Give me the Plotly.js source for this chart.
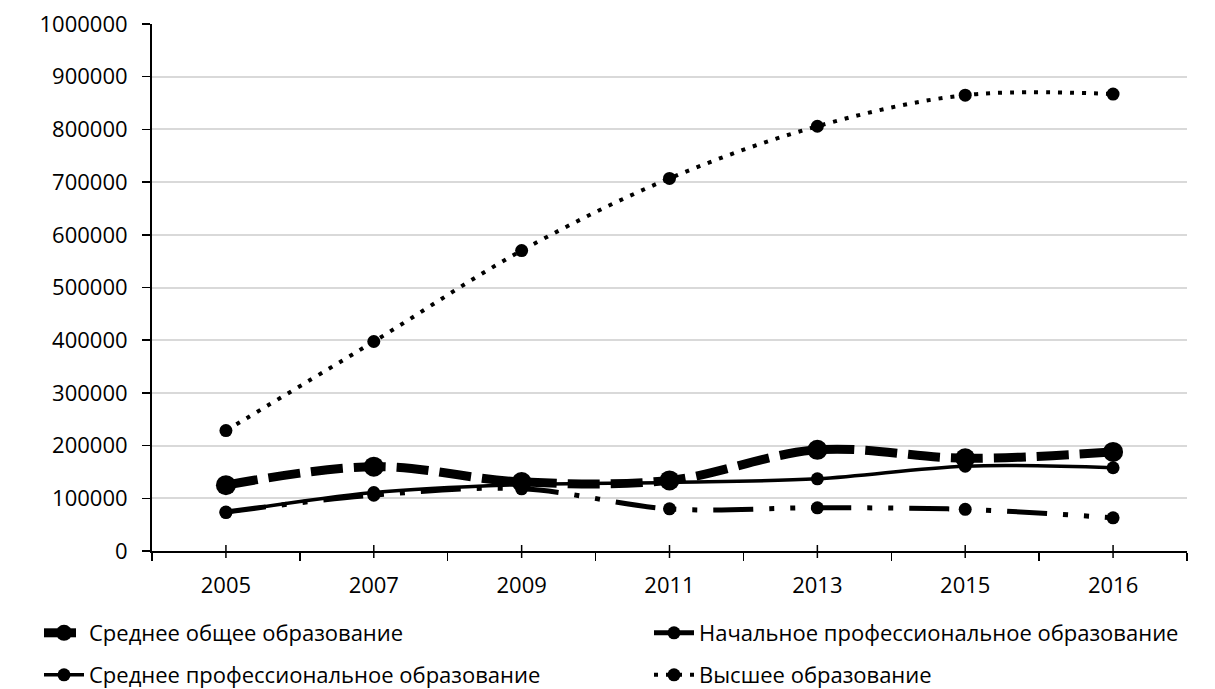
<!DOCTYPE html>
<html>
<head>
<meta charset="utf-8">
<script src="https://cdn.plot.ly/plotly-3.0.1.min.js"></script>
<style>html,body{margin:0;padding:0;background:#fff;}#chart{width:1215px;height:689px;}</style>
</head>
<body>
<div id="chart"></div>
<script>
const years = ['2005','2007','2009','2011','2013','2015','2016'];
const srednееObshchee = [125000, 160000, 131000, 134000, 192000, 176000, 188000];
const nachalnoeProf = [74000, 106000, 118000, 80000, 82000, 79000, 63000];
const srednееProf = [73000, 111000, 126000, 130000, 137000, 161000, 158000];
const vyssheeObr = [228500, 397500, 570000, 707000, 806000, 865000, 867000];
const seriesNames = ['Среднее общее образование','Начальное профессиональное образование','Среднее профессиональное образование','Высшее образование'];

const FONT = 'Open Sans, Noto Sans, sans-serif';
const traces = [
  {x: years, y: srednееObshchee, name: seriesNames[0], type: 'scatter', mode: 'lines+markers',
   line: {color: '#000', width: 9, dash: '32px,11px', shape: 'spline'},
   marker: {symbol: 'circle', size: 20, color: '#000'}, legend: 'legend'},
  {x: years, y: nachalnoeProf, name: seriesNames[1], type: 'scatter', mode: 'lines+markers',
   line: {color: '#000', width: 5, dash: '40px,16px,5px,16px,5px,16px', shape: 'spline'},
   marker: {symbol: 'circle', size: 13, color: '#000'}, legend: 'legend2'},
  {x: years, y: srednееProf, name: seriesNames[2], type: 'scatter', mode: 'lines+markers',
   line: {color: '#000', width: 3.5, shape: 'spline'},
   marker: {symbol: 'circle', size: 13, color: '#000'}, legend: 'legend3'},
  {x: years, y: vyssheeObr, name: seriesNames[3], type: 'scatter', mode: 'lines+markers',
   line: {color: '#000', width: 4, dash: '4px,8px', shape: 'spline'},
   marker: {symbol: 'circle', size: 13, color: '#000'}, legend: 'legend4'}
];

const plotW = 1215 - 152 - 28;
const plotH = 689 - 24 - 138;
const shapes = years.map(function (yr, i) {
  return {type: 'line', xref: 'x', yref: 'paper', x0: i, x1: i, y0: -7 / plotH, y1: 6 / plotH,
          line: {color: '#000', width: 1.5}};
});

function leg(px, py) {
  return {orientation: 'h', xanchor: 'left', yanchor: 'middle',
    x: (px - 152) / plotW, y: (551 - py) / plotH,
    font: {family: FONT, size: 22, color: '#000'}, bgcolor: 'rgba(0,0,0,0)', itemwidth: 40};
}

const layout = {
  width: 1215, height: 689,
  margin: {l: 152, r: 28, t: 24, b: 138, autoexpand: false},
  paper_bgcolor: '#fff', plot_bgcolor: '#fff',
  font: {family: FONT, size: 22, color: '#000'},
  showlegend: true,
  legend: leg(39, 633),
  legend2: leg(649, 633),
  legend3: leg(39, 675),
  legend4: leg(649, 675),
  xaxis: {type: 'category', range: [-0.5, years.length - 0.5], tickson: 'boundaries', ticks: 'outside', ticklen: 8, tickwidth: 1.5, tickcolor: '#000',
          showline: true, linecolor: '#000', linewidth: 2, showgrid: false, zeroline: false, tickangle: 0,
          tickfont: {family: FONT, size: 22, color: '#000'}, ticklabelstandoff: 14, fixedrange: true},
  yaxis: {range: [0, 1000000], dtick: 100000, tick0: 0, ticks: 'outside', ticklen: 8, tickwidth: 1.5, tickcolor: '#000',
          showline: true, linecolor: '#000', linewidth: 2, showgrid: true, gridcolor: '#d9d9d9', gridwidth: 2,
          zeroline: false, tickformat: 'd',
          tickfont: {family: FONT, size: 22, color: '#000'}, ticklabelstandoff: 10, fixedrange: true},
  shapes: shapes
};

Plotly.newPlot('chart', traces, layout, {displayModeBar: false, staticPlot: true});
</script>
</body>
</html>
